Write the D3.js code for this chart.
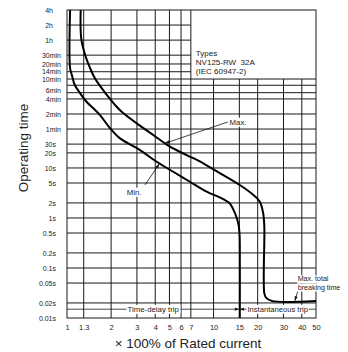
<!DOCTYPE html>
<html><head><meta charset="utf-8">
<script src="https://cdn.jsdelivr.net/npm/d3@7"></script>
<style>
html,body{margin:0;padding:0;background:#fff;}
svg{display:block;font-family:"Liberation Sans",Arial,Helvetica,sans-serif;}
</style></head><body>
<svg id="chart" width="348" height="352"></svg>
<script>
// Multiples of rated current on the horizontal axis
const currentTicks = [1, 1.3, 2, 3, 4, 5, 6, 7, 10, 15, 20, 30, 40, 50];
const currentTickLabels = ["1", "1.3", "2", "3", "4", "5", "6", "7", "10", "15", "20", "30", "40", "50"];
// Vertical rules: full height, and only below the type box
const currentGridFull = [1.3, 2, 3, 4, 5, 6, 7];
const currentGridLower = [10, 15, 20, 30, 40];

// Operating time (seconds) ticks and rules
const timeTicks = [14400, 7200, 3600, 1800, 1200, 840, 600, 360, 240, 120, 60, 30, 20, 10, 5, 2, 1, 0.5, 0.2, 0.1, 0.05, 0.02, 0.01];
const timeTickLabels = ["4h", "2h", "1h", "30min", "20min", "14min", "10min", "6min", "4min", "2min", "1min", "30s", "20s", "10s", "5s", "2s", "1s", "0.5s", "0.2s", "0.1s", "0.05s", "0.02s", "0.01s"];
const timeGrid = [7200, 3600, 1800, 1200, 840, 600, 450, 320, 240, 120, 60, 30, 20, 10, 5, 2, 1, 0.5, 0.2, 0.1, 0.05, 0.02];

// Minimum tripping curve
const minCurrent = [1.05, 1.05, 1.08, 1.13, 1.23, 1.36, 1.51, 1.68, 1.97, 2.30, 3.15, 4.09, 5.31, 6.90, 8.97, 11.1, 12.9, 13.6, 14.4, 14.85, 15.05, 15.1, 15.1];
const minTime = [14400, 980, 720, 455, 311, 211, 156, 114, 62, 39, 22.8, 13.3, 8.4, 5.3, 3.35, 2.55, 1.95, 1.5, 1.0, 0.7, 0.45, 0.3, 0.01];
// Maximum tripping curve (down to max. total breaking time)
const maxCurrent = [1.24, 1.25, 1.33, 1.44, 1.55, 1.73, 1.91, 2.13, 2.36, 2.99, 3.88, 5.04, 6.55, 8.51, 11.1, 15.1, 18.7, 20.7, 21.8, 22.2, 22.2, 22.8, 24.9, 50];
const maxTime = [14400, 3960, 1810, 980, 620, 390, 266, 181, 133, 78, 45.6, 26.6, 18.1, 12.4, 7.8, 4.56, 2.88, 2.11, 1.24, 0.67, 0.031, 0.0255, 0.022, 0.022];

const typeLines = ["Types", "NV125-RW  32A", "(IEC 60947-2)"];
const breakingLines = ["Max. total", "breaking time"];
const boxFromCurrent = 7;
const boxToTime = 600;
const tripBoundaryTime = 0.015;
const instantaneousCurrent = 15;

// Annotation anchors in data units [current, seconds]
const maxTip = [4.66, 31.1], maxEnd = [12.5, 83];
const minTip = [4.26, 12.0], minEnd = [3.40, 4.56];
const brkTip = [35.9, 0.022], brkEnd = [37.5, 0.034];

const svg = d3.select("#chart");
const L = 67, R = 316, T = 10, B = 318;
const x = d3.scaleLog().domain([1, 50]).range([L, R]);
const y = d3.scaleLog().domain([0.01, 14400]).range([B, T]);
const ink = "#1a1a1a";

const grid = svg.append("g").attr("stroke", ink).attr("stroke-width", 1);
// horizontal rules
grid.selectAll("line.h").data(timeGrid).join("line")
  .attr("x1", L).attr("x2", d => d > boxToTime ? x(boxFromCurrent) : R)
  .attr("y1", d => y(d)).attr("y2", d => y(d));
// vertical rules
grid.selectAll("line.vf").data(currentGridFull).join("line")
  .attr("x1", d => x(d)).attr("x2", d => x(d)).attr("y1", T).attr("y2", B);
grid.selectAll("line.vl").data(currentGridLower).join("line")
  .attr("x1", d => x(d)).attr("x2", d => x(d)).attr("y1", y(boxToTime)).attr("y2", B);
// frame
svg.append("rect").attr("x", L).attr("y", T).attr("width", R - L).attr("height", B - T)
  .attr("fill", "none").attr("stroke", ink).attr("stroke-width", 1);

// axes labels
const xAxis = svg.append("g").attr("transform", `translate(0,${B})`)
  .call(d3.axisBottom(x).tickValues(currentTicks).tickFormat((d, i) => currentTickLabels[i]).tickSize(0));
xAxis.select(".domain").remove();
xAxis.selectAll("text").attr("y", 11.5).attr("dy", 0).attr("font-size", 7.5).attr("fill", "#222").attr("font-family", null);

const yAxis = svg.append("g").attr("transform", `translate(${L},0)`)
  .call(d3.axisLeft(y).tickValues(timeTicks).tickFormat((d, i) => timeTickLabels[i]).tickSize(0));
yAxis.select(".domain").remove();
yAxis.selectAll("text")
  .attr("x", (d, i) => { const s = timeTickLabels[i]; return (s.endsWith("h") ? 53 : s.endsWith("min") ? 61 : 56) - L; })
  .attr("font-size", 7).attr("fill", "#222").attr("font-family", null);

// type box text
svg.append("g").selectAll("text").data(typeLines).join("text")
  .attr("x", x(boxFromCurrent) + 5).attr("y", (d, i) => y(boxToTime) - 25.4 + i * 8.9)
  .attr("dy", "0.35em").attr("font-size", 8).attr("fill", "#222")
  .style("white-space", "pre").text(d => d);

// curves
svg.append("clipPath").attr("id", "plot").append("rect").attr("x", L).attr("y", T).attr("width", R - L).attr("height", B - T);
const line = d3.line().x(d => x(d[0])).y(d => y(d[1])).curve(d3.curveCatmullRom.alpha(0.5));
const curves = svg.append("g").attr("clip-path", "url(#plot)").attr("fill", "none").attr("stroke", "#000").attr("stroke-width", 2).attr("stroke-linejoin", "round");
curves.append("path").attr("d", line(minCurrent.map((c, i) => [c, minTime[i]])));
curves.append("path").attr("d", line(maxCurrent.map((c, i) => [c, maxTime[i]])));

function arrowHead(g, tip, from, len = 4.5, half = 1.6) {
  const dx = tip[0] - from[0], dy = tip[1] - from[1], n = Math.hypot(dx, dy);
  const ux = dx / n, uy = dy / n;
  const bx = tip[0] - ux * len, by = tip[1] - uy * len;
  g.append("path").attr("fill", "#111")
    .attr("d", `M${tip[0]},${tip[1]}L${bx - uy * half},${by + ux * half}L${bx + uy * half},${by - ux * half}Z`);
}
function withBg(textSel, pad = 1) {
  const b = textSel.node().getBBox();
  d3.select(textSel.node().parentNode).insert("rect", () => textSel.node())
    .attr("x", b.x - pad).attr("y", b.y).attr("width", b.width + 2 * pad).attr("height", b.height).attr("fill", "#fff");
}

const ann = svg.append("g");
// trip zone line
const yb = y(tripBoundaryTime), xi = x(instantaneousCurrent);
ann.append("line").attr("x1", L).attr("x2", R).attr("y1", yb).attr("y2", yb).attr("stroke", ink).attr("stroke-width", 0.8);
const td = ann.append("text").attr("x", (L + xi) / 2).attr("y", yb).attr("dy", "0.35em").attr("text-anchor", "middle")
  .attr("font-size", 7.8).attr("fill", "#222").text("Time-delay trip");
withBg(td);
const it = ann.append("text").attr("x", (xi + R) / 2).attr("y", yb).attr("dy", "0.35em").attr("text-anchor", "middle")
  .attr("font-size", 7.6).attr("fill", "#222").text("Instantaneous trip");
withBg(it);
arrowHead(ann, [xi - 0.5, yb], [xi - 10, yb], 4, 1.6);
arrowHead(ann, [xi + 0.5, yb], [xi + 10, yb], 4, 1.6);

// Max. / Min. leaders
function leader(tip, end) {
  const p1 = [x(tip[0]), y(tip[1])], p2 = [x(end[0]), y(end[1])];
  ann.append("line").attr("x1", p1[0]).attr("y1", p1[1]).attr("x2", p2[0]).attr("y2", p2[1])
    .attr("stroke", "#111").attr("stroke-width", 0.8);
  arrowHead(ann, p1, p2);
  return p2;
}
const mx = leader(maxTip, maxEnd);
const mt = ann.append("text").attr("x", mx[0] + 1.8).attr("y", mx[1]).attr("dy", "0.35em")
  .attr("font-size", 7.8).attr("fill", "#222").text("Max.");
withBg(mt);
const mn = leader(minTip, minEnd);
const nt = ann.append("text").attr("x", mn[0] - 3.5).attr("y", mn[1] + 7).attr("dy", "0.35em").attr("text-anchor", "end")
  .attr("font-size", 7.8).attr("fill", "#222").text("Min.");
withBg(nt);
const bk = leader(brkTip, brkEnd);
// two-line note above the breaking-time leader
breakingLines.forEach((s, i) => {
  const t = ann.append("text").attr("x", bk[0]).attr("y", bk[1] - 12.6 + i * 8.2).attr("dy", "0.35em")
    .attr("font-size", 7.1).attr("fill", "#222").text(s);
  withBg(t, 0.5);
});

// axis titles
svg.append("text").attr("transform", `translate(28,${(T + B) / 2 - 16}) rotate(-90)`)
  .attr("text-anchor", "middle").attr("font-size", 13.5).attr("fill", "#222").text("Operating time");
svg.append("text").attr("x", 188).attr("y", 348).attr("text-anchor", "middle")
  .attr("font-size", 13.5).attr("fill", "#222").text("× 100% of Rated current");
</script>
</body></html>
